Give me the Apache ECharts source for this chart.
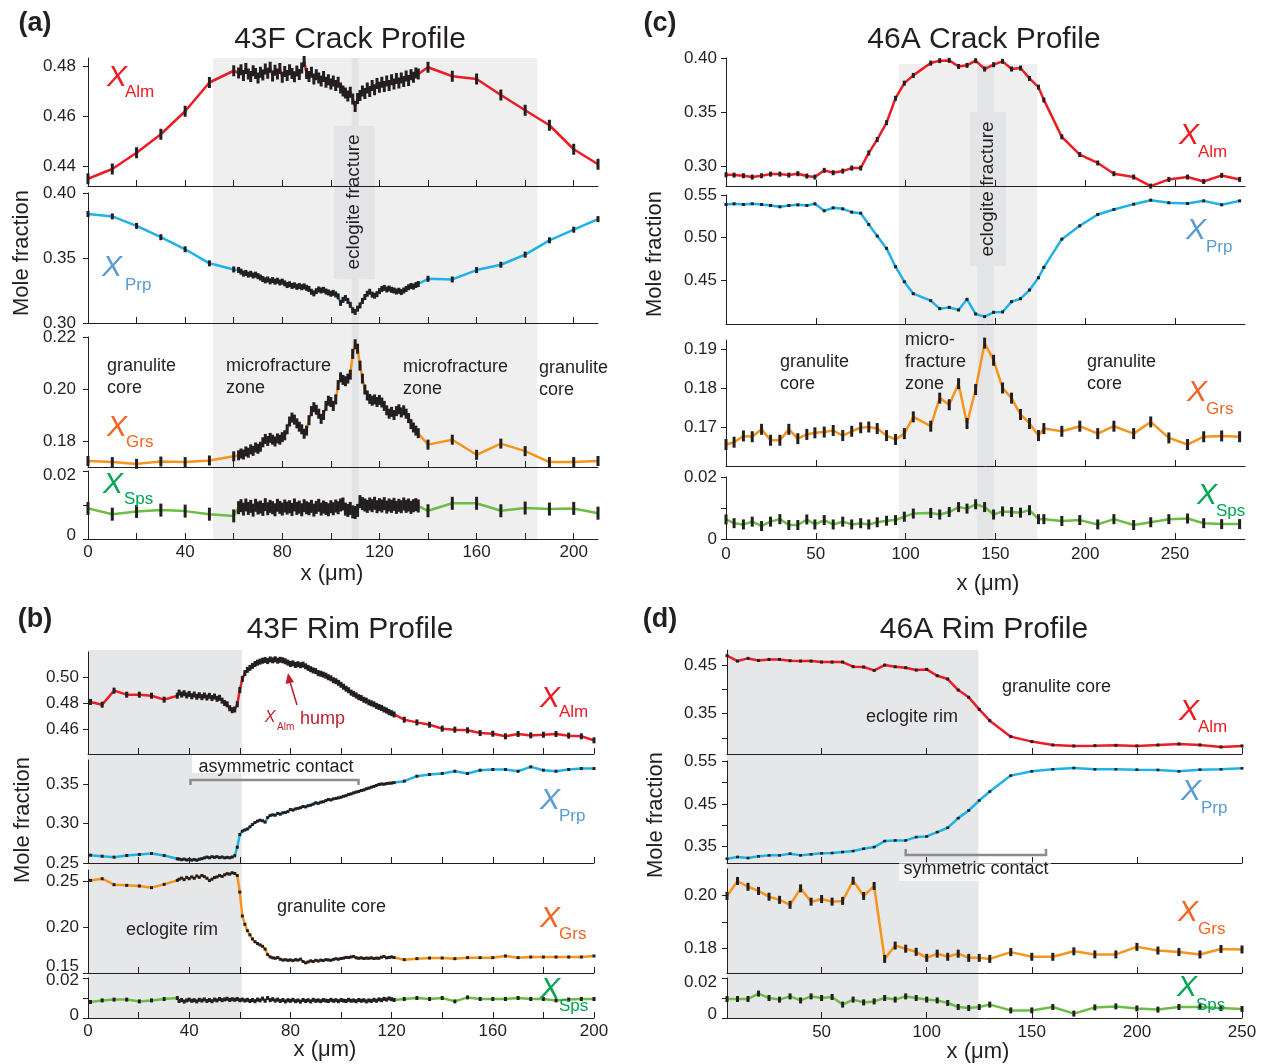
<!DOCTYPE html>
<html><head><meta charset="utf-8">
<script src="https://cdn.jsdelivr.net/npm/echarts@6/dist/echarts.min.js"></script>
<style>html,body{margin:0;padding:0;background:#fff}#c{width:1263px;height:1064px}</style>
</head><body><div id="c"></div>
<script>
// ---------- (a) 43F Crack Profile ----------
const aX = [0,10,20,30,40,50,60,
 62,63,64,65,66,67,68,69,70,71,72,73,74,75,76,77,78,79,80,81,82,83,84,85,86,87,88,89,90,91,92,93,94,95,96,97,98,99,100,101,
 102,103,104,105,106,107,108,109,110,111,112,113,114,115,116,117,118,119,120,121,122,123,124,125,126,127,128,129,130,131,132,133,134,135,136,
 140,150,160,170,180,190,200,210];
const aAlm = [0.4349,0.4388,0.4453,0.4527,0.4619,0.4734,0.4781,
 0.4772,0.4785,0.4762,0.4790,0.4768,0.4758,0.4781,0.4770,0.4752,0.4775,
 0.4764,0.4788,0.4771,0.4795,0.4760,0.4783,0.4768,0.4790,0.4755,0.4778,
 0.4762,0.4785,0.4770,0.4757,0.4780,0.4766,0.4792,0.4818,0.4770,0.4758,
 0.4775,0.4748,0.4765,0.4752,0.4740,0.4758,0.4735,0.4745,0.4728,0.4740,
 0.4722,0.4735,0.4712,0.4700,0.4692,0.4680,0.4695,0.4668,0.4638,0.4670,
 0.4682,0.4700,0.4690,0.4712,0.4698,0.4722,0.4705,0.4730,0.4715,0.4735,
 0.4718,0.4740,0.4722,0.4745,0.4728,0.4750,0.4732,0.4752,0.4738,0.4760,
 0.4742,0.4765,0.4755,0.4772,0.4768,
 0.4795,0.4759,0.4748,0.4684,0.4623,0.4563,0.4467,0.4407];
const aPrp = [0.3838,0.3820,0.3747,0.3660,0.3567,0.3459,0.3412,
 0.3408,0.3395,0.3380,0.3385,0.3372,0.3378,0.3365,0.3372,0.3360,0.3350,
 0.3338,0.3328,0.3335,0.3320,0.3330,0.3318,0.3325,0.3312,0.3318,0.3305,
 0.3292,0.3298,0.3285,0.3290,0.3278,0.3285,0.3275,0.3282,0.3270,0.3262,
 0.3240,0.3228,0.3245,0.3258,0.3250,0.3255,0.3242,0.3235,0.3225,0.3232,
 0.3220,0.3205,0.3155,0.3178,0.3192,0.3170,0.3140,0.3098,0.3085,0.3110,
 0.3135,0.3170,0.3200,0.3225,0.3240,0.3218,0.3210,0.3222,0.3245,0.3262,
 0.3270,0.3258,0.3265,0.3255,0.3250,0.3242,0.3248,0.3238,0.3250,0.3262,
 0.3275,0.3285,0.3280,0.3292,0.3300,
 0.3340,0.3335,0.3407,0.3448,0.3526,0.3636,0.3718,0.3799];
const aGrs = [0.1723,0.1719,0.1712,0.1721,0.1719,0.1725,0.1741,
 0.1745,0.1752,0.1748,0.1760,0.1755,0.1768,0.1762,0.1775,0.1770,0.1778,
 0.1795,0.1808,0.1800,0.1812,0.1805,0.1798,0.1810,0.1805,0.1815,0.1822,
 0.1845,0.1875,0.1890,0.1882,0.1868,0.1855,0.1845,0.1828,0.1840,0.1880,
 0.1915,0.1930,0.1920,0.1905,0.1885,0.1900,0.1935,0.1955,0.1950,0.1935,
 0.1960,0.2015,0.2045,0.2035,0.2030,0.2040,0.2055,0.2135,0.2172,0.2155,
 0.2090,0.2040,0.1998,0.1975,0.1962,0.1955,0.1960,0.1950,0.1958,0.1948,
 0.1935,0.1918,0.1905,0.1912,0.1900,0.1915,0.1922,0.1910,0.1918,0.1905,
 0.1888,0.1865,0.1852,0.1840,0.1830,
 0.1786,0.1805,0.1747,0.1790,0.1761,0.1719,0.1719,0.1723];
const aSps = [0.0090,0.0073,0.0081,0.0085,0.0082,0.0073,0.0068,
 0.0092,0.0098,0.0088,0.0100,0.0090,0.0096,0.0085,0.0099,0.0091,0.0094,
 0.0087,0.0101,0.0089,0.0096,0.0092,0.0086,0.0099,0.0093,0.0088,0.0097,
 0.0091,0.0095,0.0087,0.0100,0.0090,0.0094,0.0086,0.0098,0.0092,0.0089,
 0.0096,0.0085,0.0093,0.0099,0.0088,0.0094,0.0090,0.0086,0.0095,0.0089,
 0.0097,0.0092,0.0100,0.0103,0.0088,0.0084,0.0090,0.0080,0.0078,0.0084,
 0.0110,0.0104,0.0100,0.0096,0.0103,0.0098,0.0105,0.0095,0.0101,0.0097,
 0.0104,0.0094,0.0100,0.0096,0.0102,0.0093,0.0099,0.0095,0.0103,0.0096,
 0.0100,0.0093,0.0098,0.0101,0.0097,
 0.0083,0.0105,0.0105,0.0083,0.0091,0.0088,0.0090,0.0076];

// ---------- (c) 46A Crack Profile ----------
const cX = [0,4.5,9.7,14.6,19.8,24.8,30,35,40,45,49.5,54.7,59.7,65,70,75,79.5,84.2,89.4,94.4,99.3,104.3,114,119,124.3,129.5,134.2,139,144,149,154,159,164,169,174,177,187,197,207,216,227,236.5,246.6,257,266,276,286];
const cAlm = [0.2919,0.2916,0.2910,0.2898,0.2910,0.2925,0.2925,0.2916,0.2929,0.2907,0.2898,0.2960,0.2938,0.2953,0.2981,0.2981,0.3121,0.3245,0.3401,0.3627,0.3767,0.3839,0.3953,0.3975,0.3978,0.3922,0.3932,0.3975,0.3898,0.3938,0.3969,0.3898,0.3907,0.3811,0.3730,0.3612,0.3270,0.3106,0.3028,0.2929,0.2898,0.2814,0.2876,0.2898,0.2857,0.2913,0.2876];
const cPrp = [0.5388,0.5396,0.5388,0.5396,0.5388,0.5376,0.5361,0.5376,0.5384,0.5376,0.5396,0.5314,0.5349,0.5337,0.5298,0.5286,0.5153,0.5016,0.4871,0.4655,0.4478,0.4337,0.4255,0.4161,0.4176,0.4145,0.4271,0.4098,0.4067,0.4118,0.4122,0.4243,0.4278,0.4380,0.4525,0.4647,0.4980,0.5137,0.5271,0.5329,0.5392,0.5439,0.5408,0.5400,0.5431,0.5384,0.5431];
const cGrs = [0.1655,0.1661,0.1677,0.1675,0.1694,0.1666,0.1666,0.1694,0.1670,0.1681,0.1685,0.1687,0.1691,0.1678,0.1689,0.1698,0.1700,0.1696,0.1678,0.1668,0.1683,0.1726,0.1702,0.1774,0.1757,0.1811,0.1709,0.1796,0.1915,0.1871,0.1800,0.1774,0.1732,0.1709,0.1678,0.1696,0.1689,0.1702,0.1683,0.1702,0.1683,0.1713,0.1672,0.1655,0.1675,0.1677,0.1675];
const cSps = [0.0063,0.0051,0.0047,0.0056,0.0042,0.0056,0.0064,0.0045,0.0045,0.0063,0.0047,0.0061,0.0047,0.0056,0.0047,0.0051,0.0047,0.0054,0.0059,0.0061,0.0072,0.0082,0.0084,0.0079,0.0087,0.0103,0.0098,0.0112,0.0103,0.0079,0.0089,0.0087,0.0085,0.0093,0.0064,0.0064,0.0058,0.0061,0.0047,0.0064,0.0045,0.0054,0.0064,0.0066,0.0051,0.0048,0.0048];

// ---------- (b) 43F Rim Profile ----------
const bX = [1,5.6,10.3,15.3,20.3,25.1,30.1,35.3,
 36,37,38,39,40,41,42,43,44,45,46,47,48,49,50,51,52,53,54,55,56,57,58,59,60,61,62,63,64,65,66,67,68,69,70,71,72,73,74,75,76,77,78,
 79,80,81,82,83,84,85,86,87,88,89,90,91,92,93,94,95,96,97,98,99,100,101,102,103,104,105,106,107,108,109,110,111,112,113,114,115,116,117,118,119,120,121,
 125,130,135,140,145,150,155,160,165,170,175,180,185,190,195,200];
const bAlm = [0.4808,0.4787,0.4895,0.4864,0.4864,0.4856,0.4826,0.4856,
 0.4880,0.4865,0.4875,0.4858,0.4870,0.4852,0.4865,0.4848,0.4860,0.4845,
 0.4858,0.4842,0.4855,0.4838,0.4850,0.4832,0.4840,0.4818,0.4800,0.4790,
 0.4760,0.4745,0.4750,0.4790,0.4900,0.4985,0.5030,0.5055,0.5070,0.5085,
 0.5100,0.5110,0.5118,0.5125,0.5130,0.5122,0.5135,0.5128,0.5136,0.5125,
 0.5132,0.5128,0.5120,0.5110,0.5100,0.5105,0.5092,0.5098,0.5090,0.5095,
 0.5082,0.5070,0.5060,0.5050,0.5045,0.5030,0.5025,0.5018,0.5010,0.4998,
 0.4990,0.4975,0.4968,0.4955,0.4940,0.4925,0.4910,0.4898,0.4880,0.4870,
 0.4858,0.4845,0.4838,0.4825,0.4818,0.4805,0.4798,0.4790,0.4778,0.4770,
 0.4762,0.4750,0.4742,0.4730,0.4722,0.4712,
 0.4672,0.4651,0.4633,0.4603,0.4595,0.4590,0.4569,0.4564,0.4544,0.4562,0.4551,0.4556,0.4562,0.4549,0.4544,0.4513];
const bPrp = [0.2599,0.2586,0.2574,0.2595,0.2608,0.2620,0.2595,0.2553,
 0.2550,0.2542,0.2550,0.2538,0.2546,0.2536,0.2545,0.2535,0.2548,0.2555,
 0.2565,0.2575,0.2566,0.2580,0.2572,0.2580,0.2568,0.2576,0.2565,0.2572,
 0.2566,0.2575,0.2592,0.2700,0.2860,0.2903,0.2918,0.2930,0.2958,0.2987,
 0.3012,0.3030,0.3042,0.3035,0.3017,0.3075,0.3101,0.3110,0.3105,0.3128,
 0.3118,0.3135,0.3140,0.3150,0.3177,0.3170,0.3185,0.3192,0.3200,0.3215,
 0.3210,0.3225,0.3232,0.3245,0.3262,0.3255,0.3270,0.3275,0.3290,0.3304,
 0.3298,0.3312,0.3318,0.3325,0.3333,0.3345,0.3352,0.3368,0.3375,0.3388,
 0.3398,0.3405,0.3418,0.3425,0.3439,0.3448,0.3460,0.3470,0.3482,0.3495,
 0.3500,0.3498,0.3505,0.3510,0.3512,0.3518,
 0.3536,0.3599,0.3620,0.3633,0.3662,0.3633,0.3675,0.3684,0.3684,0.3662,0.3717,0.3675,0.3662,0.3684,0.3696,0.3696];
const bGrs = [0.2507,0.2525,0.2460,0.2453,0.2446,0.2428,0.2464,0.2507,
 0.2520,0.2532,0.2515,0.2540,0.2525,0.2545,0.2530,0.2555,0.2540,0.2560,
 0.2548,0.2530,0.2505,0.2520,0.2538,0.2545,0.2560,0.2550,0.2568,0.2580,
 0.2575,0.2590,0.2582,0.2560,0.2380,0.2120,0.2030,0.1960,0.1915,0.1870,
 0.1840,0.1820,0.1805,0.1790,0.1760,0.1700,0.1675,0.1665,0.1660,0.1668,
 0.1650,0.1640,0.1645,0.1638,0.1642,0.1635,0.1645,0.1640,0.1650,0.1625,
 0.1610,0.1620,0.1632,0.1625,0.1638,0.1630,0.1640,0.1635,0.1645,0.1642,
 0.1638,0.1648,0.1655,0.1650,0.1658,0.1662,0.1670,0.1668,0.1675,0.1680,
 0.1665,0.1660,0.1665,0.1658,0.1662,0.1660,0.1665,0.1658,0.1662,0.1660,
 0.1672,0.1680,0.1665,0.1670,0.1675,0.1668,
 0.1645,0.1656,0.1663,0.1663,0.1656,0.1667,0.1667,0.1667,0.1685,0.1667,0.1674,0.1674,0.1674,0.1674,0.1674,0.1685];
const bSps = [0.0080,0.0088,0.0092,0.0092,0.0083,0.0088,0.0095,0.0100,
 0.0085,0.0090,0.0082,0.0088,0.0092,0.0086,0.0089,0.0083,0.0091,0.0087,
 0.0093,0.0085,0.0090,0.0084,0.0092,0.0088,0.0095,0.0089,0.0093,0.0096,
 0.0090,0.0094,0.0091,0.0095,0.0089,0.0092,0.0087,0.0091,0.0085,0.0090,
 0.0084,0.0092,0.0088,0.0097,0.0086,0.0100,0.0089,0.0094,0.0087,0.0092,
 0.0085,0.0090,0.0083,0.0089,0.0086,0.0091,0.0084,0.0088,0.0082,0.0090,
 0.0085,0.0089,0.0083,0.0091,0.0086,0.0088,0.0084,0.0090,0.0087,0.0085,
 0.0091,0.0086,0.0089,0.0084,0.0090,0.0087,0.0085,0.0091,0.0086,0.0088,
 0.0084,0.0090,0.0086,0.0089,0.0083,0.0088,0.0085,0.0091,0.0086,0.0093,
 0.0089,0.0096,0.0092,0.0098,0.0094,0.0090,
 0.0095,0.0100,0.0095,0.0100,0.0083,0.0103,0.0095,0.0095,0.0095,0.0100,0.0095,0.0095,0.0088,0.0092,0.0095,0.0095];

// ---------- (d) 46A Rim Profile ----------
const dX = [5,10,15,20,25,30,35,40,45,50,55,60,65,70,75,80,85,90,95,100,105,110,115,120,125,130,140,150,160,170,180,190,200,210,220,230,240,250];
const dAlm = [0.4692,0.4582,0.4637,0.4596,0.4616,0.4616,0.4589,0.4582,0.4582,0.4562,0.4562,0.4562,0.4466,0.4459,0.4390,0.4500,0.4466,0.4445,0.4397,0.4411,0.4281,0.4212,0.3986,0.3836,0.3589,0.3356,0.3027,0.2925,0.2856,0.2836,0.2842,0.2849,0.2836,0.2856,0.2877,0.2856,0.2815,0.2836];
const dPrp = [0.3221,0.3260,0.3236,0.3275,0.3298,0.3298,0.3337,0.3298,0.3322,0.3345,0.3353,0.3376,0.3399,0.3453,0.3492,0.3632,0.3647,0.3647,0.3725,0.3740,0.3841,0.3942,0.4167,0.4345,0.4578,0.4787,0.5159,0.5260,0.5306,0.5337,0.5306,0.5306,0.5298,0.5291,0.5260,0.5298,0.5306,0.5329];
const dGrs = [0.1999,0.2056,0.2034,0.2018,0.1996,0.1984,0.1965,0.2028,0.1977,0.1987,0.1977,0.1980,0.2057,0.1999,0.2037,0.1758,0.1809,0.1797,0.1785,0.1762,0.1778,0.1766,0.1778,0.1762,0.1762,0.1758,0.1784,0.1766,0.1766,0.1787,0.1775,0.1775,0.1804,0.1790,0.1784,0.1775,0.1796,0.1794];
const dSps = [0.0095,0.0095,0.0095,0.0122,0.0100,0.0092,0.0108,0.0088,0.0108,0.0100,0.0105,0.0067,0.0092,0.0078,0.0083,0.0100,0.0092,0.0108,0.0100,0.0092,0.0088,0.0075,0.0055,0.0050,0.0055,0.0067,0.0038,0.0038,0.0055,0.0022,0.0053,0.0058,0.0048,0.0042,0.0055,0.0055,0.0050,0.0045];

// ---------- tick values ----------
const ticks20 = [0,20,40,60,80,100,120,140,160,180,200];
const labels40 = [0,40,80,120,160,200];
const ticks50 = [0,50,100,150,200,250];
const ticks50d = [50,100,150,200,250];

const FONT = '"Liberation Sans", Arial, Helvetica, sans-serif';
const INK = '#231f20';
const LINE = {alm:'#ed1c24', prp:'#1fb2e8', grs:'#f7941d', sps:'#6cbd45'};
const LAB = {alm:'#ed1c24', prp:'#5b9bd5', grs:'#f26522', sps:'#00a651'};

const panels = [
 {x:aX, left:88, width:510, xmin:0, xmax:210, xt:ticks20, xl:labels40, xm:5, ym:12, subs:[
  {top:58, bottom:186, min:0.432, max:0.4832, t:[0.44,0.46,0.48], l:[0.44,0.46,0.48], y:aAlm, c:'alm', bar:11},
  {top:193, bottom:323, min:0.30, max:0.40, t:[0.30,0.35,0.40], l:[0.30,0.35,0.40], y:aPrp, c:'prp', bar:6},
  {top:337, bottom:467, min:0.17, max:0.22, t:[0.18,0.20,0.22], l:[0.18,0.20,0.22], y:aGrs, c:'grs', bar:10},
  {top:471, bottom:539, min:0, max:0.02, t:[0,0.01,0.02], l:[0,0.02], y:aSps, c:'sps', bar:13, nudge:{'0.020':4, '0.000':-4}}]},
 {x:cX, left:726, width:519, xmin:0, xmax:289, xt:ticks50, xl:ticks50, xm:7, ym:9, subs:[
  {top:58, bottom:186, min:0.2815, max:0.40, t:[0.30,0.35,0.40], l:[0.30,0.35,0.40], y:cAlm, c:'alm', bar:5},
  {top:195, bottom:324, min:0.398, max:0.55, t:[0.45,0.50,0.55], l:[0.45,0.50,0.55], y:cPrp, c:'prp', bar:3},
  {top:340, bottom:466, min:0.16, max:0.1923, t:[0.17,0.18,0.19], l:[0.17,0.18,0.19], y:cGrs, c:'grs', bar:11},
  {top:477, bottom:539, min:0, max:0.02, t:[0,0.01,0.02], l:[0,0.02], y:cSps, c:'sps', bar:10}]},
 {x:bX, left:88, width:506, xmin:0, xmax:200, xt:ticks20, xl:labels40, xm:5, ym:9, subs:[
  {top:652, bottom:754, min:0.4408, max:0.5192, t:[0.46,0.48,0.50], l:[0.46,0.48,0.50], y:bAlm, c:'alm', bar:6},
  {top:760, bottom:863, min:0.25, max:0.3804, t:[0.25,0.30,0.35], l:[0.25,0.30,0.35], y:bPrp, c:'prp', bar:3},
  {top:870, bottom:973, min:0.15, max:0.262, t:[0.15,0.20,0.25], l:[0.15,0.20,0.25], y:bGrs, c:'grs', bar:3, nudge:{'0.150':-7}},
  {top:978, bottom:1018, min:0, max:0.02, t:[0,0.01,0.02], l:[0,0.02], y:bSps, c:'sps', bar:4, nudge:{'0.020':2, '0.000':-3}}]},
 {x:dX, left:727, width:515, xmin:5, xmax:250, xt:ticks50d, xl:ticks50d, xm:6, ym:10, subs:[
  {top:650, bottom:754, min:0.267, max:0.481, t:[0.30,0.35,0.40,0.45], l:[0.35,0.45], y:dAlm, c:'alm', bar:3},
  {top:761, bottom:863, min:0.312, max:0.55, t:[0.35,0.40,0.45,0.50,0.55], l:[0.35,0.45,0.55], y:dPrp, c:'prp', bar:2.5},
  {top:869, bottom:973, min:0.1704, max:0.2102, t:[0.18,0.19,0.20], l:[0.18,0.20], y:dGrs, c:'grs', bar:8},
  {top:978, bottom:1018, min:0, max:0.02, t:[0,0.01,0.02], l:[0,0.02], y:dSps, c:'sps', bar:6, nudge:{'0.020':4, '0.000':-4}}]}
];

const grids=[], xAxes=[], yAxes=[], series=[];
let gi = 0;
const baseLab = {fontSize:17, color:INK, fontFamily:FONT};
panels.forEach(p => {
  p.subs.forEach((s, k) => {
    const last = k === p.subs.length - 1;
    const nudge = s.nudge || {};
    const rich = {};
    Object.keys(nudge).forEach((key, i) => {
      const n = nudge[key];
      rich['n' + i] = Object.assign({}, baseLab, {padding: n < 0 ? [0,0,-2*n,0] : [2*n,0,0,0]});
    });
    const nkeys = Object.keys(nudge);
    grids.push({left:p.left, top:s.top, width:p.width, height:s.bottom - s.top});
    xAxes.push({type:'value', gridIndex:gi, min:p.xmin, max:p.xmax,
      axisLine:{show:true, onZero:false, lineStyle:{color:INK, width:1}},
      axisTick:{show:true, inside:true, length:6, customValues:p.xt, lineStyle:{color:INK, width:1}},
      axisLabel:{show:last, customValues:p.xl, fontSize:17, color:INK, fontFamily:FONT, margin:p.xm},
      splitLine:{show:false}});
    yAxes.push({type:'value', gridIndex:gi, min:s.min, max:s.max,
      axisLine:{show:true, onZero:false, lineStyle:{color:INK, width:1}},
      axisTick:{show:true, inside:false, length:5, customValues:s.t, lineStyle:{color:INK, width:1}},
      axisLabel:Object.assign({show:true, customValues:s.l, margin:p.ym, rich:rich,
        formatter: v => {
          const str = Math.abs(v) < 1e-9 ? '0' : v.toFixed(2);
          const i = nkeys.indexOf(v.toFixed(3));
          return i >= 0 ? '{n' + i + '|' + str + '}' : str;
        }}, baseLab),
      splitLine:{show:false}});
    series.push({type:'line', xAxisIndex:gi, yAxisIndex:gi, animation:false, silent:true, clip:false,
      data: p.x.map((xv, i) => [xv, s.y[i]]),
      symbol:'rect', symbolSize:[3, s.bar], showSymbol:true,
      itemStyle:{color:INK}, lineStyle:{color:LINE[s.c], width:2.5}, z:3});
    gi++;
  });
});

const chart = echarts.init(document.getElementById('c'), null, {renderer:'canvas'});
chart.setOption({animation:false, backgroundColor:'#fff', grid:grids, xAxis:xAxes, yAxis:yAxes, series:series});

function X(g, v){ return chart.convertToPixel({xAxisIndex:g}, v); }
const G = [];
function rect(x0, x1, y0, y1, fill, z){ G.push({type:'rect', z:z, silent:true, shape:{x:x0, y:y0, width:x1-x0, height:y1-y0}, style:{fill:fill}}); }
function txt(t, x, y, o){ o = o || {};
  G.push({type:'text', x:x, y:y, z:o.z || 20, rotation:o.rot || 0, silent:true,
    style:{text:t, fill:o.fill || INK, fontSize:o.size || 18, fontFamily:FONT, fontStyle:o.italic ? 'italic' : 'normal',
      fontWeight:o.bold ? 'bold' : 'normal', align:o.align || 'center', verticalAlign:o.va || 'middle', lineHeight:o.lh || 22}}); }
function poly(pts, stroke, w){ G.push({type:'polyline', z:20, silent:true, shape:{points:pts}, style:{stroke:stroke, lineWidth:w, fill:null}}); }

// shaded zones
rect(X(0,51.4), X(0,185), 58, 539, '#efefef', -10);
rect(X(0,108.6), X(0,111.5), 58, 539, '#e2e3e5', -9);
rect(334, 375, 126, 279, '#e3e4e5', -8);
rect(X(4,96.2), X(4,173.4), 64, 539, '#efefef', -10);
rect(X(4,140), X(4,149), 64, 539, '#e3e4e6', -9);
rect(970, 1006, 112, 266, '#e3e4e5', -8);
rect(X(8,0), X(8,60.8), 650, 1018, '#e6e7e8', -10);
rect(X(12,5), X(12,124.6), 650, 1018, '#e6e7e8', -10);
rect(192, 360, 754, 773, '#ffffff', -7);
G.push({type:'rect', z:15, silent:true, shape:{x:899, y:862, width:152, height:19}, style:{fill:'rgba(255,255,255,0.6)'}});

// panel letters & titles
txt('(a)', 35, 24, {size:27, bold:true});
txt('(c)', 660, 24, {size:27, bold:true});
txt('(b)', 35, 620, {size:27, bold:true});
txt('(d)', 660, 620, {size:27, bold:true});
txt('43F Crack Profile', 350, 40, {size:30});
txt('46A Crack Profile', 984, 40, {size:30});
txt('43F Rim Profile', 350, 630, {size:30});
txt('46A Rim Profile', 984, 630, {size:30});
txt('x (\u03bcm)', 332, 574, {size:22});
txt('x (\u03bcm)', 988, 584, {size:22});
txt('x (\u03bcm)', 325, 1050, {size:22});
txt('x (\u03bcm)', 978, 1052, {size:22});
txt('Mole fraction', 22, 253, {size:22, rot:Math.PI/2});
txt('Mole fraction', 655, 254, {size:22, rot:Math.PI/2});
txt('Mole fraction', 23, 820, {size:22, rot:Math.PI/2});
txt('Mole fraction', 656, 815, {size:22, rot:Math.PI/2});

// eclogite fracture labels
txt('eclogite fracture', 354, 202, {size:19, rot:Math.PI/2});
txt('eclogite fracture', 988, 189, {size:19, rot:Math.PI/2});

// zone annotations
txt('granulite\ncore', 107, 377, {align:'left'});
txt('microfracture\nzone', 226, 377, {align:'left'});
txt('microfracture\nzone', 403, 378, {align:'left'});
txt('granulite\ncore', 539, 379, {align:'left'});
txt('granulite\ncore', 780, 373, {align:'left'});
txt('micro-\nfracture\nzone', 905, 362, {align:'left'});
txt('granulite\ncore', 1087, 373, {align:'left'});
txt('eclogite rim', 126, 930, {align:'left'});
txt('granulite core', 277, 907, {align:'left'});
txt('asymmetric contact', 276, 767, {});
txt('eclogite rim', 866, 717, {align:'left'});
txt('granulite core', 1002, 687, {align:'left'});
txt('symmetric contact', 976, 869, {});
poly([[190.5,785],[190.5,780],[358.5,780],[358.5,785]], '#8c8c8c', 2.5);
poly([[905.7,849],[905.7,855],[1046,855],[1046,849]], '#8c8c8c', 2.5);

// X_Alm hump
const HUMP = '#be1e2d';
txt('X', 270, 718, {size:16, italic:true, fill:HUMP});
txt('Alm', 277, 727, {size:10, fill:HUMP, align:'left'});
txt('hump', 300, 719, {size:18, fill:HUMP, align:'left'});
G.push({type:'line', z:20, silent:true, shape:{x1:297, y1:705, x2:289.5, y2:680}, style:{stroke:HUMP, lineWidth:1.5}});
G.push({type:'polygon', z:20, silent:true, shape:{points:[[288,673],[294,682],[285.5,684]]}, style:{fill:HUMP}});

// series labels
function xl(key, cx, cy, sx, sy){
  txt('X', cx, cy, {size:30, italic:true, fill:LAB[key]});
  txt({alm:'Alm', prp:'Prp', grs:'Grs', sps:'Sps'}[key], sx, sy, {size:17, fill:LAB[key], align:'left'});
}
xl('alm', 117, 78, 125, 92);
xl('prp', 112, 268, 125, 285);
xl('grs', 117, 428, 126, 442);
xl('sps', 113, 485, 124, 499);
xl('alm', 1189, 136, 1198, 152);
xl('prp', 1196, 231, 1206, 247);
xl('grs', 1197, 393, 1206, 409);
xl('sps', 1207, 496, 1216, 511);
xl('alm', 550, 699, 559, 712);
xl('prp', 550, 801, 559, 816);
xl('grs', 550, 919, 559, 934);
xl('sps', 550, 990, 559, 1006);
xl('alm', 1189, 712, 1198, 727);
xl('prp', 1191, 792, 1201, 808);
xl('grs', 1188, 913, 1198, 929);
xl('sps', 1187, 988, 1196, 1005);

chart.setOption({graphic:{elements:G}});
</script></body></html>
